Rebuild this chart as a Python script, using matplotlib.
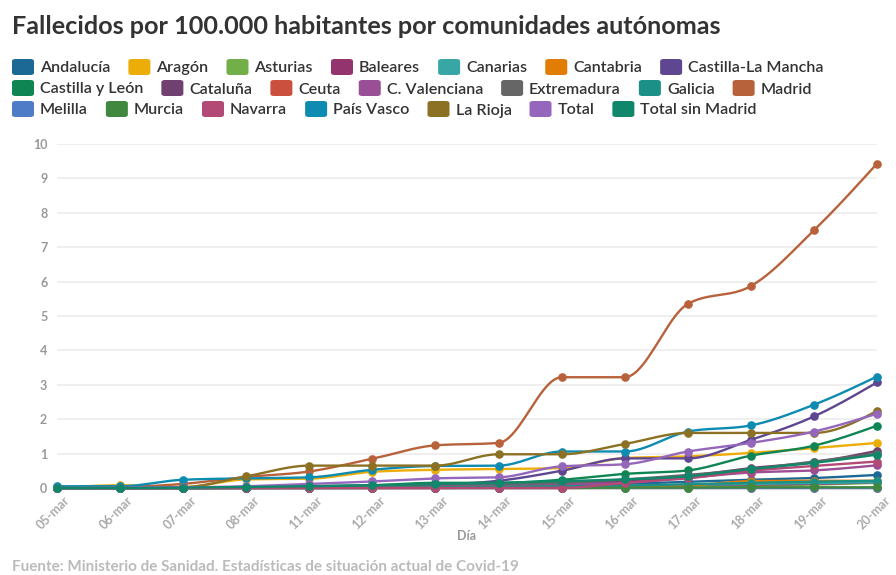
import numpy as np
import matplotlib
matplotlib.use("Agg")
import matplotlib.pyplot as plt
import matplotlib.transforms as mtransforms
from matplotlib.patches import FancyBboxPatch

plt.rcParams['font.family'] = ['Lato', 'DejaVu Sans']

dates = ['05-mar', '06-mar', '07-mar', '08-mar', '11-mar', '12-mar', '13-mar',
         '14-mar', '15-mar', '16-mar', '17-mar', '18-mar', '19-mar', '20-mar']

andalucia = [0, 0, 0, 0, 0.01, 0.02, 0.04, 0.05, 0.08, 0.12, 0.18, 0.24, 0.29, 0.38]
aragon = [0, 0.08, 0.03, 0.25, 0.27, 0.47, 0.53, 0.55, 0.58, 0.87, 0.92, 1.02, 1.16, 1.31]
asturias = [0, 0, 0, 0, 0, 0, 0, 0, 0, 0.02, 0.05, 0.07, 0.10, 0.15]
baleares = [0, 0, 0, 0, 0, 0, 0, 0.02, 0.05, 0.05, 0.09, 0.10, 0.12, 0.17]
canarias = [0, 0, 0, 0, 0, 0.01, 0.02, 0.03, 0.05, 0.05, 0.09, 0.12, 0.14, 0.17]
cantabria = [0, 0, 0, 0, 0, 0, 0, 0, 0, 0.03, 0.07, 0.20, 0.21, 0.21]
castilla_la_mancha = [0, 0, 0, 0, 0.05, 0.07, 0.10, 0.21, 0.50, 0.86, 0.86, 1.40, 2.08, 3.07]
castilla_y_leon = [0, 0, 0, 0.02, 0.05, 0.08, 0.15, 0.15, 0.24, 0.41, 0.51, 0.94, 1.23, 1.81]
cataluna = [0, 0, 0, 0.01, 0.02, 0.03, 0.05, 0.08, 0.12, 0.20, 0.35, 0.58, 0.75, 1.08]
ceuta = [0, 0, 0, 0, 0, 0, 0, 0, 0, 0, 0, 0, 0, 0]
c_valenciana = [0, 0, 0, 0.01, 0.02, 0.03, 0.05, 0.07, 0.10, 0.15, 0.30, 0.45, 0.51, 0.66]
extremadura = [0, 0, 0, 0, 0, 0.05, 0.10, 0.12, 0.15, 0.25, 0.38, 0.55, 0.77, 1.00]
galicia = [0, 0, 0, 0, 0, 0, 0.02, 0.04, 0.05, 0.07, 0.11, 0.15, 0.18, 0.21]
madrid = [0.02, 0.03, 0.12, 0.32, 0.48, 0.85, 1.24, 1.31, 3.22, 3.22, 5.35, 5.87, 7.49, 9.43]
melilla = [0, 0, 0, 0, 0, 0, 0, 0, 0, 0, 0, 0, 0, 0]
murcia = [0, 0, 0, 0, 0, 0, 0, 0, 0, 0.01, 0.01, 0.02, 0.02, 0.02]
navarra = [0, 0, 0, 0, 0, 0, 0, 0, 0, 0.15, 0.28, 0.50, 0.64, 0.77]
pais_vasco = [0.05, 0.05, 0.24, 0.28, 0.31, 0.53, 0.64, 0.65, 1.06, 1.06, 1.64, 1.82, 2.42, 3.24]
la_rioja = [0, 0, 0.02, 0.34, 0.65, 0.65, 0.65, 0.98, 0.98, 1.28, 1.60, 1.60, 1.60, 2.24]
total = [0, 0.01, 0.02, 0.05, 0.12, 0.19, 0.28, 0.31, 0.63, 0.69, 1.06, 1.31, 1.64, 2.16]
total_sin_madrid = [0, 0, 0.01, 0.03, 0.05, 0.08, 0.12, 0.15, 0.20, 0.25, 0.34, 0.55, 0.73, 0.97]

names = ['Andalucía', 'Aragón', 'Asturias', 'Baleares', 'Canarias', 'Cantabria',
         'Castilla-La Mancha', 'Castilla y León', 'Cataluña', 'Ceuta', 'C. Valenciana',
         'Extremadura', 'Galicia', 'Madrid', 'Melilla', 'Murcia', 'Navarra',
         'País Vasco', 'La Rioja', 'Total', 'Total sin Madrid']
series = [andalucia, aragon, asturias, baleares, canarias, cantabria,
          castilla_la_mancha, castilla_y_leon, cataluna, ceuta, c_valenciana,
          extremadura, galicia, madrid, melilla, murcia, navarra,
          pais_vasco, la_rioja, total, total_sin_madrid]
colors = ['#1D6996', '#EDAD08', '#73AF48', '#94346E', '#38A6A5', '#E17C05',
          '#5F4690', '#0F8554', '#6F4070', '#CC503E', '#994E95',
          '#666666', '#1A9086', '#B8623B', '#4E7CC7', '#40883F', '#B24A75',
          '#0E8BB0', '#8C7124', '#9467BD', '#10876A']

yticks = [0, 1, 2, 3, 4, 5, 6, 7, 8, 9, 10]


def monotone_x(x, y, n=24):
    x = np.asarray(x, float)
    y = np.asarray(y, float)
    h = np.diff(x)
    s = np.diff(y) / h
    m = np.zeros_like(y)
    for i in range(1, len(y) - 1):
        s0, s1 = s[i - 1], s[i]
        p = (s0 * h[i] + s1 * h[i - 1]) / (h[i - 1] + h[i])
        m[i] = (np.sign(s0) + np.sign(s1)) * min(abs(s0), abs(s1), 0.5 * abs(p))
    m[0] = (3 * s[0] - m[1]) / 2
    m[-1] = (3 * s[-1] - m[-2]) / 2
    xs, ys = [], []
    for i in range(len(x) - 1):
        t = np.linspace(0, 1, n, endpoint=(i == len(x) - 2))
        h00 = 2 * t**3 - 3 * t**2 + 1
        h10 = t**3 - 2 * t**2 + t
        h01 = -2 * t**3 + 3 * t**2
        h11 = t**3 - t**2
        xs.append(x[i] + t * h[i])
        ys.append(h00 * y[i] + h10 * h[i] * m[i] + h01 * y[i + 1] + h11 * h[i] * m[i + 1])
    return np.concatenate(xs), np.concatenate(ys)


W, H = 896, 575
fig = plt.figure(figsize=(W / 100, H / 100), dpi=100)
ax = fig.add_axes([57 / W, 1 - 488 / H, (877 - 57) / W, (488 - 144) / H])

xpos = np.arange(len(dates))
for name, vals, c in zip(names, series, colors):
    sx, sy = monotone_x(xpos, vals)
    ax.plot(sx, sy, color=c, lw=1.7, clip_on=False, solid_capstyle='round')
    ax.plot(xpos, vals, 'o', color=c, ms=5.2, clip_on=False, mec=c)

ax.set_xlim(0, len(dates) - 1)
ax.set_ylim(0, 10)
ax.set_yticks(yticks)
ax.set_yticklabels([str(v) for v in yticks])
ax.set_xticks(xpos)
ax.set_xticklabels(dates, rotation=45, ha='right', va='top', rotation_mode='anchor')
for sp in ax.spines.values():
    sp.set_visible(False)
ax.grid(axis='y', color='#eeeeee', lw=1.3)
ax.set_axisbelow(True)
ax.tick_params(axis='y', length=0, pad=7, labelsize=9, labelcolor='#999999')
ax.tick_params(axis='x', length=0, pad=4, labelsize=9, labelcolor='#aaaaaa')
shift = mtransforms.ScaledTranslation(7 / 100, 0, fig.dpi_scale_trans)
for lab in ax.get_xticklabels():
    lab.set_transform(lab.get_transform() + shift)
for lab in ax.get_yticklabels() + ax.get_xticklabels():
    lab.set_fontweight('bold')
ax.set_xlabel('Día', fontsize=9, color='#999999', fontweight='bold')
ax.xaxis.set_label_coords(0.5, -(536 - 488) / (488 - 144))
ax.xaxis.label.set_va('center')

fig.text(12 / W, 1 - 27 / H, 'Fallecidos por 100.000 habitantes por comunidades autónomas',
         fontsize=18.2, fontweight='bold', color='#333333', va='center', ha='left')

# legend
fig.canvas.draw()
renderer = fig.canvas.get_renderer()
row_y = [67, 88, 109]
per_row = 7
sw_w, sw_h = 22, 16
for r in range(3):
    x = 12
    for k in range(per_row):
        i = r * per_row + k
        yc = row_y[r]
        box = FancyBboxPatch((x / W, (H - yc - sw_h / 2) / H), sw_w / W, sw_h / H,
                             boxstyle='round,pad=0,rounding_size=0.004',
                             transform=fig.transFigure, facecolor=colors[i],
                             edgecolor='none')
        fig.patches.append(box)
        t = fig.text((x + sw_w + 6) / W, 1 - yc / H, names[i], fontsize=11.6,
                     color='#333333', va='center_baseline', ha='left', fontweight='semibold')
        bb = t.get_window_extent(renderer)
        x = x + sw_w + 6 + bb.width + 18

fig.text(12 / W, 1 - 574 / H,
         'Fuente: Ministerio de Sanidad. Estadísticas de situación actual de Covid-19',
         fontsize=11, fontweight='bold', color='#bbbbbb', va='bottom', ha='left')

fig.savefig('out.png', dpi=100)
